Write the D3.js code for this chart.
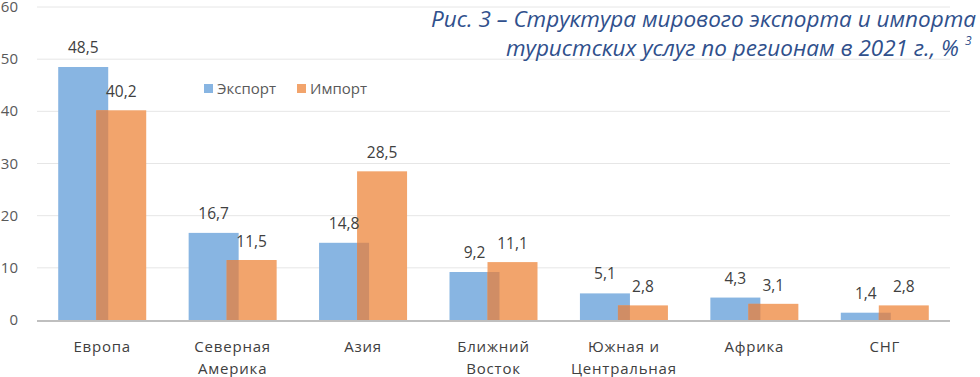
<!DOCTYPE html>
<html><head><meta charset="utf-8">
<script src="https://cdn.jsdelivr.net/npm/d3@7"></script>
<style>body{margin:0;background:#fff}svg{display:block}</style>
</head><body>
<script>
const categories = [["Европа"],["Северная","Америка"],["Азия"],["Ближний","Восток"],["Южная и","Центральная"],["Африка"],["СНГ"]];
const exportVals = [48.5, 16.7, 14.8, 9.2, 5.1, 4.3, 1.4];
const importVals = [40.2, 11.5, 28.5, 11.1, 2.8, 3.1, 2.8];
const yTicks = [0,10,20,30,40,50,60];
const seriesNames = ["Экспорт","Импорт"];
const titleLines = ["Рис. 3 – Структура мирового экспорта и импорта","туристских услуг по регионам в 2021 г., %"];

const W=980,H=377;
const colExp="#88b5e2", colImp="#f2a46c", colOv="#d08d65";
const svg=d3.select("body").append("svg").attr("width",W).attr("height",H);
const x=d3.scaleBand().domain(d3.range(categories.length)).range([37,950]);
const y=d3.scaleLinear().domain([0,60]).range([320,7]);
const bw=50, off=44;
const numFont="'Open Sans', sans-serif";

// grid
svg.append("g").selectAll("line").data(yTicks.filter(d=>d>0)).join("line")
 .attr("x1",37).attr("x2",950).attr("y1",d=>y(d)).attr("y2",d=>y(d))
 .attr("stroke","#e6e6e6").attr("stroke-width",1);
// y labels
svg.append("g").selectAll("text").data(yTicks).join("text")
 .attr("x",18).attr("y",d=>y(d)+5).attr("text-anchor","end")
 .attr("font-family",numFont).attr("font-size",15).attr("fill","#595959").text(d=>d);

const cx=i=>x(i)+x.bandwidth()/2;
const g=svg.append("g");
g.selectAll(".e").data(exportVals).join("rect").attr("class","e")
 .attr("x",(d,i)=>cx(i)-off).attr("width",bw).attr("y",d=>y(d)).attr("height",d=>y(0)-y(d)).attr("fill",colExp);
g.selectAll(".m").data(importVals).join("rect").attr("class","m")
 .attr("x",(d,i)=>cx(i)+off-bw).attr("width",bw).attr("y",d=>y(d)).attr("height",d=>y(0)-y(d)).attr("fill",colImp);
g.selectAll(".o").data(importVals).join("rect").attr("class","o")
 .attr("x",(d,i)=>cx(i)+off-bw).attr("width",2*bw-2*off)
 .attr("y",(d,i)=>y(Math.min(d,exportVals[i]))).attr("height",(d,i)=>y(0)-y(Math.min(d,exportVals[i]))).attr("fill",colOv);

// axis
svg.append("line").attr("x1",37).attr("x2",950).attr("y1",y(0)+1).attr("y2",y(0)+1).attr("stroke","#bfbfbf").attr("stroke-width",2);

const fmt=d=>String(d).replace(".",",");
svg.append("g").selectAll("text").data(exportVals).join("text")
 .attr("x",(d,i)=>cx(i)-off+bw/2).attr("y",d=>y(d)-14).attr("text-anchor","middle")
 .attr("font-family",numFont).attr("font-size",15.5).attr("fill","#404040").text(fmt);
svg.append("g").selectAll("text").data(importVals).join("text")
 .attr("x",(d,i)=>cx(i)+off-bw/2).attr("y",d=>y(d)-13).attr("text-anchor","middle")
 .attr("font-family",numFont).attr("font-size",15.5).attr("fill","#404040").text(fmt);

// categories
const cg=svg.append("g").selectAll("text").data(categories).join("text")
 .attr("x",(d,i)=>cx(i)).attr("y",352).attr("text-anchor","middle")
 .attr("font-family",numFont).attr("font-size",15).attr("letter-spacing",0.8).attr("fill","#404040");
cg.selectAll("tspan").data(d=>d).join("tspan").attr("x",function(){return this.parentNode.getAttribute("x")})
 .attr("dy",(d,j)=>j?22:0).text(d=>d);

// legend
const lg=svg.append("g");
const lx=[204,297];
[colExp,colImp].forEach((c,i)=>{
 lg.append("rect").attr("x",lx[i]).attr("y",84).attr("width",9).attr("height",9).attr("fill",c);
 lg.append("text").attr("x",lx[i]+13).attr("y",94).attr("font-family",numFont).attr("font-size",15).attr("fill","#595959").text(seriesNames[i]);
});

// title
const tc="#30508c";
const t=svg.append("text").attr("text-anchor","end").attr("font-family","'Open Sans', sans-serif")
 .attr("font-style","italic").attr("font-size",22.5).attr("fill",tc);
t.append("tspan").attr("x",976).attr("y",27).text(titleLines[0]);
t.append("tspan").attr("x",959).attr("y",56).text(titleLines[1]);
svg.append("text").attr("x",965).attr("y",45).attr("font-family","'Open Sans', sans-serif").attr("font-style","italic")
 .attr("font-size",12).attr("fill",tc).text("3");
</script>
</body></html>
